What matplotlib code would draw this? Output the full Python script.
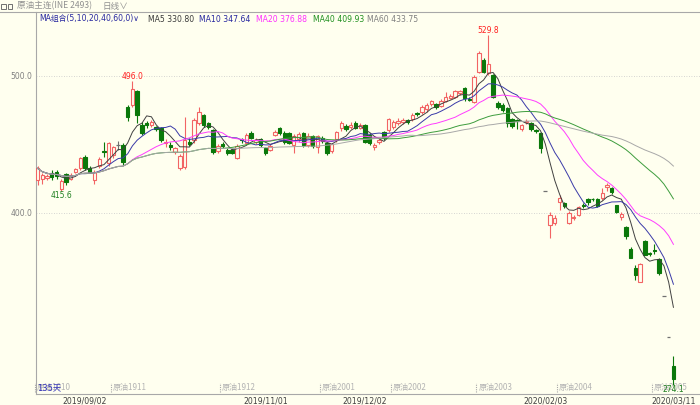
import numpy as np
import pandas as pd
import matplotlib
matplotlib.use("Agg")
import matplotlib.pyplot as plt
from matplotlib.patches import Rectangle
from matplotlib.lines import Line2D
from matplotlib.transforms import blended_transform_factory

# daily OHLC of 原油主连, 135 sessions (2019/08/19 .. 2020/03/11)
opens = [
    424, 424.5, 425.5, 429.3, 430, 417, 428.3, 425, 430, 432.5,
    441, 432.5, 424, 434, 445, 436, 442, 449.5, 449.5, 477.5,
    478.8, 489.3, 464.2, 465.5, 464, 462.5, 461.7, 451, 449.5, 444.6,
    432.5, 433.2, 452, 453.2, 465.5, 471.5, 465.5, 460.5, 445, 450,
    446, 446, 440.3, 454, 451, 458, 452, 453.7, 447, 446,
    456.8, 461.7, 458.5, 458, 449.5, 454, 458, 449.5, 456, 448.3,
    455, 450.8, 445, 453.7, 461.7, 463.5, 462.5, 465.4, 462, 464.2,
    456.8, 448, 452, 459.3, 460.5, 462.7, 465.5, 466.5, 467.5, 468.3,
    473, 473.9, 475.5, 479.5, 479.5, 478, 482, 484, 484.9, 487.5,
    491, 483.5, 481.2, 503.1, 511.7, 502, 500.7, 480.6, 479, 476.4,
    468.3, 467.5, 461, 466, 465.4, 460.5, 458.5, 416, 391, 392.7,
    408, 407.3, 392.3, 396, 398.3, 405.5, 410, 410.3, 410, 410.5,
    419, 418, 405.6, 397, 389.8, 373.5, 359.3, 349.5, 379.5, 370.3,
    372.5, 366, 339, 308.9, 287.9,
]
highs = [
    434, 429, 428, 431, 431, 425, 429, 429, 433, 441,
    442, 434, 431, 441, 452, 452, 449, 452.5, 451, 479,
    496, 490, 466, 467, 468, 463.5, 462.5, 454, 452, 448,
    443, 470, 455, 469, 477, 472.5, 466, 461, 450, 451.5,
    447, 447.5, 450, 455, 458, 459.5, 455, 455, 448, 450.5,
    460.5, 462.5, 460, 459, 457.5, 459, 459, 458, 457, 457,
    456, 452, 451, 460, 467, 465, 466, 467, 465.5, 465,
    458, 451, 455, 460, 469.5, 467.5, 469, 469.5, 468.5, 473,
    474, 478.5, 480, 482.5, 480.5, 483, 488, 486.5, 490, 490,
    492, 484.5, 501, 518, 513, 529.8, 501.5, 482, 480, 477,
    469, 468.5, 465, 468.5, 466.5, 461, 459, 416, 400.5, 398.5,
    413, 408, 401, 398, 405, 407, 410.5, 411, 411, 418,
    422, 419, 406, 400.5, 390.5, 375, 362, 363, 380, 371,
    377, 367, 339, 308.9, 295.2,
]
lows = [
    420, 421, 424, 424, 425, 415.6, 420, 424, 429, 431,
    431, 429, 421, 433, 441, 434, 440, 446, 435, 467,
    477, 465.4, 457, 462, 463, 460, 452, 448, 446, 443,
    431, 432, 449, 451, 464, 463, 461, 443, 444, 447,
    442, 443, 439.5, 451, 450, 454, 450, 448, 442, 445,
    456, 457, 450.5, 450, 444, 452, 448, 448, 447, 444,
    451, 442, 444, 452, 460, 460, 461, 461, 461, 451,
    449.5, 446, 450, 453, 459, 461, 464, 465, 465, 467,
    470.5, 472, 474, 478, 476, 477, 481, 483, 484, 486,
    482, 481.5, 480, 502, 502, 501, 484, 476, 474, 463,
    462, 461, 460, 465, 460, 458.5, 443.7, 416, 381.5, 391,
    402, 403.5, 391.5, 395, 397.5, 403.5, 406, 408.5, 404, 409.5,
    416, 414, 400, 395, 381, 368, 351, 349, 370, 368.5,
    370, 354.5, 339, 308.9, 274.1,
]
closes = [
    432.5, 427.5, 426.5, 426.3, 427, 423.4, 422.7, 427.6, 432, 439.8,
    432.5, 430, 430, 439, 444.3, 450.8, 447.9, 449.5, 437.3, 469.8,
    490.3, 471.5, 458.5, 464, 466.5, 461, 453.2, 451.5, 447.8, 447,
    441.5, 453.2, 450.5, 467.8, 474, 464.5, 462.5, 444.6, 448.5, 448.8,
    443.5, 444, 448.8, 453, 456.8, 455, 453, 449.5, 443.5, 449,
    459.3, 458.5, 452, 451, 456, 457.5, 449.5, 456, 449, 456,
    452.5, 443.5, 450, 459.3, 465.4, 461.5, 464, 462, 464.5, 452,
    450.8, 449.5, 453.5, 455, 468.3, 466, 467, 467.5, 466.5, 471.5,
    472, 477.5, 479, 481.5, 477.5, 482, 484.9, 485.5, 489.3, 489,
    483.7, 482.5, 499.5, 516.6, 503.1, 508.6, 484.9, 477, 475, 465.8,
    463.4, 467, 464, 467, 461.3, 460, 447.1, 416, 398.3, 396.3,
    410.5, 404.9, 400, 397, 404, 405, 408, 409.8, 404.9, 414.6,
    420.3, 415, 400.7, 399, 383, 367, 354.4, 362.5, 369, 369.8,
    372, 356, 339, 308.9, 278.1,
]

date_pos = [10, 48, 69, 107, 134]
date_labels = ["2019/09/02", "2019/11/01", "2019/12/02", "2020/02/03", "2020/03/11"]
contract_pos = [-0.5, 15.5, 38.5, 59.5, 74.5, 92.5, 109.5, 129.5]
contract_names = ["原油1910", "原油1911", "原油1912", "原油2001",
                  "原油2002", "原油2003", "原油2004", "原油2005"]
ma_periods = [5, 10, 20, 40, 60]
ma_labels = ["MA5 330.80", "MA10 347.64", "MA20 376.88", "MA40 409.93", "MA60 433.75"]
ma_colors = ["#404040", "#3a3aa8", "#ff3cff", "#3c9c3c", "#a8a8a8"]
ma_text_colors = ["#3a3a3a", "#2828a0", "#ff30ff", "#209020", "#808080"]
ma_text_x = [148, 199, 256, 313, 367]

bg = "#FFFFEF"
red = "#F26464"
green = "#0A780A"
flat = "#707070"
cjk = ["Noto Sans CJK SC", "DejaVu Sans"]
mixed = ["DejaVu Sans", "Noto Sans CJK SC"]

W, H = 700, 405
fig = plt.figure(figsize=(7, 4.05), dpi=100, facecolor=bg)
ax = fig.add_axes([36 / W, 11 / H, 664 / W, 382 / H], facecolor=bg)


def fpos(x, y):
    return x / W, 1 - y / H


# candles
for i, (o, h, l, c) in enumerate(zip(opens, highs, lows, closes)):
    if c > o:
        col, face = red, bg
    elif c < o:
        col, face = green, green
    else:
        col, face = flat, flat
    ax.vlines(i, l, h, color=col, lw=0.8, zorder=2)
    if c == o:
        ax.hlines(c, i - 0.38, i + 0.38, color=col, lw=0.9, zorder=3)
    else:
        ax.add_patch(Rectangle((i - 0.36, min(o, c)), 0.72, abs(c - o),
                               facecolor=face, edgecolor=col, lw=0.8, zorder=3))

# moving averages
s = pd.Series(closes)
for n, col in zip(ma_periods, ma_colors):
    ax.plot(np.arange(len(closes)), s.rolling(n, min_periods=1).mean(),
            color=col, lw=0.7, zorder=4)

# high / low labels
ax.text(95, 529.8, "529.8", color="#ff2020", fontsize=5.5, ha="center", va="bottom")
ax.text(20, 496.0, "496.0", color="#ff2020", fontsize=5.5, ha="center", va="bottom")
ax.text(5, 415.6, "415.6", color="#208020", fontsize=5.5, ha="center", va="top")
ax.text(134, 274.1, "274.1", color="#208020", fontsize=5.5, ha="center", va="top", zorder=6)

for v in (400, 500):
    ax.axhline(v, color="#c8c8c8", lw=0.6, ls=(0, (1, 2)), zorder=1)

ax.set_xlim(-0.32, 139.6)
ax.set_ylim(267.4, 546.8)
ax.set_yticks([400, 500])
ax.set_yticklabels(["400.0", "500.0"])
ax.set_xticks(date_pos)
ax.set_xticklabels(date_labels)
ax.tick_params(axis="y", length=0, labelsize=5.5, labelcolor="#808080", pad=2.5)
ax.tick_params(axis="x", length=0, labelsize=5.6, labelcolor="#404040", pad=2)
for side in ("top", "right"):
    ax.spines[side].set_visible(False)
for side in ("left", "bottom"):
    ax.spines[side].set_color("#a8a8a8")
    ax.spines[side].set_linewidth(0.8)

# contract roll markers
trans = blended_transform_factory(ax.transData, ax.transAxes)
for p, name in zip(contract_pos, contract_names):
    ax.plot([p, p], [0.004, 0.03], transform=trans, color="#a8a8a8",
            lw=0.8, ls=(0, (1, 1)), clip_on=False)
    ax.text(p + 0.4, 0.017, name, transform=trans, fontsize=5.8,
            color="#b4b4b4", family=cjk, va="center", ha="left")
ax.text(0.002, 0.017, "135天", transform=ax.transAxes, fontsize=6,
        color="#3030b8", family=mixed, va="center", ha="left", zorder=7)

# top frame line
fig.add_artist(Line2D([0, 1], [1 - 12 / H] * 2, color="#a8a8a8", lw=0.8))

# header row 1
for x0 in (1, 7.5):
    fig.add_artist(Rectangle(fpos(x0, 8.5), 4.5 / W, 4.5 / H, fill=False,
                             edgecolor="#707070", lw=0.7, transform=fig.transFigure))
fig.text(*fpos(17, 6), "原油主连(INE 2493)", fontsize=6.2, color="#909090",
         family=cjk, va="center")
fig.text(*fpos(103, 6), "日线∨", fontsize=6.2, color="#909090",
         family=cjk, va="center")

# header row 2
fig.text(*fpos(39, 19), "MA组合(5,10,20,40,60,0)∨", fontsize=5.6,
         color="#2828a0", family=mixed, va="center")
for label, x0, col in zip(ma_labels, ma_text_x, ma_text_colors):
    fig.text(*fpos(x0, 19), label, fontsize=5.6, color=col,
             family=mixed, va="center")

fig.savefig("out.png", dpi=100, facecolor=bg)
